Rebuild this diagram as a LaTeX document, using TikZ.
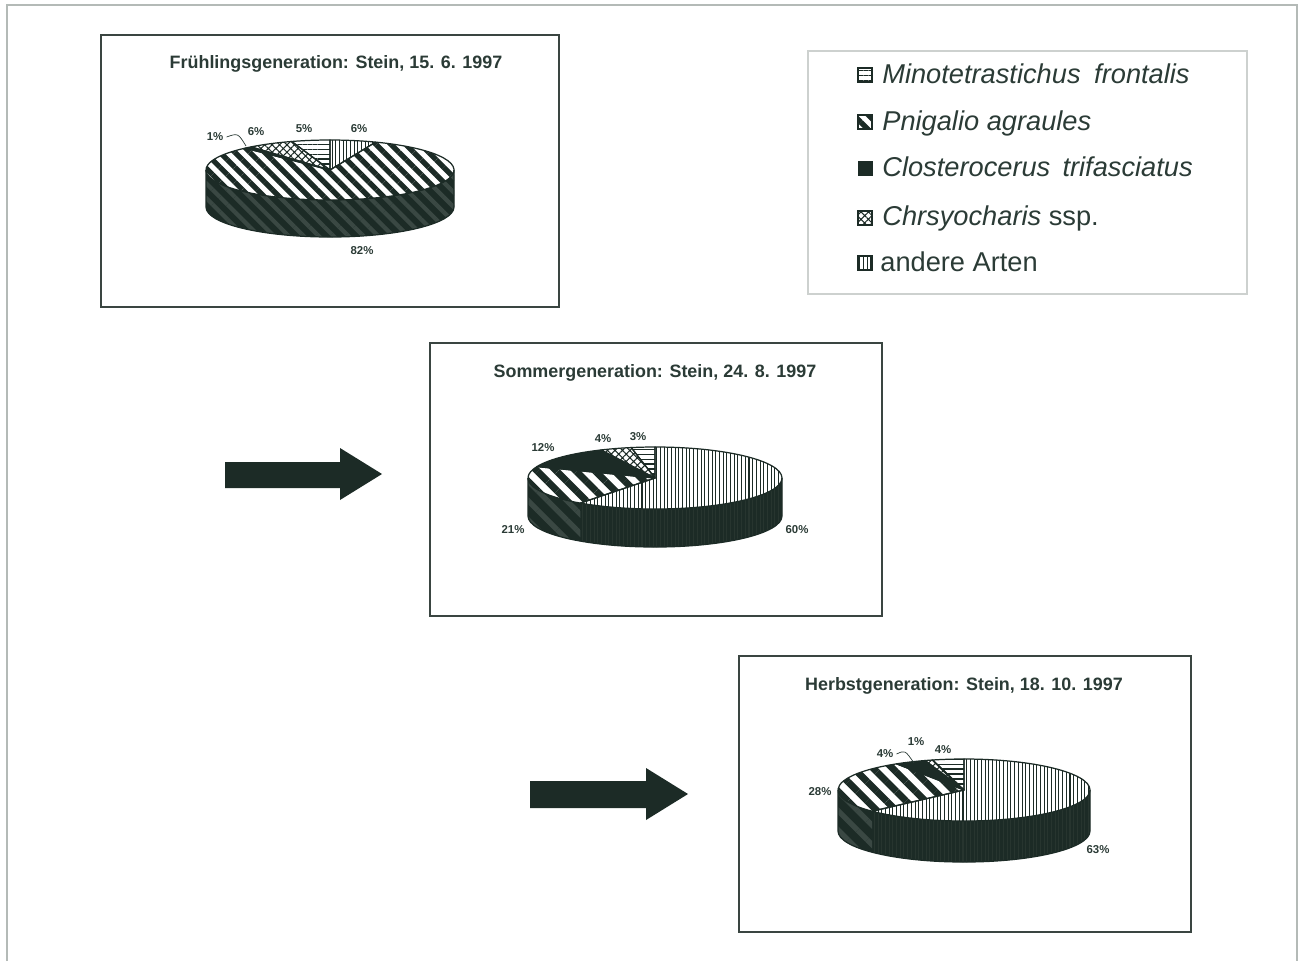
\documentclass[tikz,border=0pt]{standalone}
\usepackage{fontspec}
\setmainfont{Liberation Sans}
\usetikzlibrary{patterns.meta}

\definecolor{ink}{HTML}{1C2B26}
\definecolor{textgreen}{HTML}{2B3B36}
\definecolor{framegray}{HTML}{B4BAB7}
\definecolor{legendgray}{HTML}{CDD1CF}
\definecolor{boxgray}{HTML}{3A4541}
\definecolor{sidestripe}{HTML}{3A4843}
\definecolor{sideline}{HTML}{27352F}

\newcommand{\slicepath}[2]{(0,0) -- ({\prx*cos(#1)},{\pry*sin(#1)}) arc[start angle=#1, end angle=#2, x radius=\prx, y radius=\pry] -- cycle}
\newcommand{\sidepath}[2]{({\prx*cos(#1)},{\pry*sin(#1)}) arc[start angle=#1, end angle=#2, x radius=\prx, y radius=\pry] -- ++(0,\pdp) arc[start angle=#2, end angle=#1, x radius=\prx, y radius=\pry] -- cycle}
\newcommand{\sideoutline}{(\prx,0) -- ++(0,\pdp) arc[start angle=0, end angle=180, x radius=\prx, y radius=\pry] -- ++(0,-\pdp)}

\tikzset{
  chartbox/.style={draw=boxgray, line width=1.1pt},
  charttitle/.style={font=\fontsize{10.2}{12}\selectfont\bfseries, text=textgreen, anchor=base},
  pct/.style={font=\fontsize{6.5}{7}\selectfont\bfseries, text=textgreen, inner sep=0pt},
  legendtext/.style={font=\fontsize{15.5}{18}\selectfont, text=textgreen, anchor=base west, inner sep=0pt},
  legendicon/.style={draw=ink, line width=1.1pt},
  slice/.style={draw=ink, line width=0.7pt, line join=round},
  leader/.style={draw=textgreen, line width=0.4pt},
  diagA/.style={pattern={Lines[angle=-45,distance=6pt,line width=3pt]}, pattern color=ink},
  diagB/.style={pattern={Lines[angle=-45,distance=7.8pt,line width=3.9pt]}, pattern color=ink},
  sidediagA/.style={pattern={Lines[angle=-45,distance=6pt,line width=2.4pt]}, pattern color=sidestripe},
  sidediagB/.style={pattern={Lines[angle=-45,distance=7.8pt,line width=3pt]}, pattern color=sidestripe},
  vert/.style={pattern={Lines[angle=90,distance=2.1pt,line width=0.6pt]}, pattern color=ink},
  sidevert/.style={pattern={Lines[angle=90,distance=2.1pt,line width=0.6pt]}, pattern color=sideline},
  horiz/.style={pattern={Lines[angle=0,distance=2.8pt,line width=0.8pt]}, pattern color=ink},
  cross/.style={pattern={Hatch[angle=45,distance=3pt,line width=0.6pt]}, pattern color=ink},
}

\begin{document}
\begin{tikzpicture}[x=0.02cm, y=-0.02cm]
  \useasboundingbox (0,0) rectangle (1304,961);
  \fill[white] (0,0) rectangle (1304,961);
  \draw[framegray, line width=1.1pt] (7,961) -- (7,5) -- (1297,5) -- (1297,961);

  % chart frames
  \draw[chartbox] (101,35) rectangle (559,307);
  \draw[chartbox] (430,343) rectangle (882,616);
  \draw[chartbox] (739,656) rectangle (1191,932);

  \node[charttitle] (title1) at (336,68) {Frühlingsgeneration: Stein, 15. 6. 1997};
  \node[charttitle] (title2) at (655,377) {Sommergeneration: Stein, 24. 8. 1997};
  \node[charttitle] (title3) at (964,690) {Herbstgeneration: Stein, 18. 10. 1997};

  % pie 1
  \begin{scope}[shift={(330,170)}]
    \def\prx{124}\def\pry{30}\def\pdp{37}
    \fill[ink] \sidepath{0}{180};
    \path[sidediagA] \sidepath{0}{180};
    \path[diagA] \slicepath{-68.4}{226.8};
    \path[vert] \slicepath{-90}{-68.4};
    \fill[ink] \slicepath{226.8}{230.4};
    \path[cross] \slicepath{230.4}{252};
    \path[horiz] \slicepath{252}{270};
    \foreach \a/\b in {-90/-68.4, -68.4/226.8, 226.8/230.4, 230.4/252, 252/270}
      \draw[slice] \slicepath{\a}{\b};
    \draw[slice] \sideoutline;
  \end{scope}
  \node[pct] (p1a) at (215,137) {1\%};
  \node[pct] (p1b) at (256,132) {6\%};
  \node[pct] (p1c) at (304,129) {5\%};
  \node[pct] (p1d) at (359,129) {6\%};
  \node[pct] (p1e) at (362,251) {82\%};
  \coordinate (tip1) at (246,146);
  \draw[leader] (p1a.east) ++(3,0) .. controls (238,133) .. (tip1);

  % pie 2
  \begin{scope}[shift={(655,478)}]
    \def\prx{127}\def\pry{31}\def\pdp{38}
    \fill[ink] \sidepath{0}{180};
    \path[sidevert] \sidepath{0}{126};
    \path[sidediagB] \sidepath{126}{180};
    \path[vert] \slicepath{-90}{126};
    \path[diagB] \slicepath{126}{201.6};
    \fill[ink] \slicepath{201.6}{244.8};
    \path[cross] \slicepath{244.8}{259.2};
    \path[horiz] \slicepath{259.2}{270};
    \foreach \a/\b in {-90/126, 126/201.6, 201.6/244.8, 244.8/259.2, 259.2/270}
      \draw[slice] \slicepath{\a}{\b};
    \draw[slice] \sideoutline;
  \end{scope}
  \node[pct] (p2a) at (543,448) {12\%};
  \node[pct] (p2b) at (603,439) {4\%};
  \node[pct] (p2c) at (638,437) {3\%};
  \node[pct] (p2d) at (513,530) {21\%};
  \node[pct] (p2e) at (797,530) {60\%};

  % pie 3
  \begin{scope}[shift={(964,790)}]
    \def\prx{126}\def\pry{31}\def\pdp{41}
    \fill[ink] \sidepath{0}{180};
    \path[sidevert] \sidepath{0}{136.8};
    \path[sidediagB] \sidepath{136.8}{180};
    \path[vert] \slicepath{-90}{136.8};
    \path[diagB] \slicepath{136.8}{237.6};
    \fill[ink] \slicepath{237.6}{252};
    \path[cross] \slicepath{252}{255.6};
    \path[horiz] \slicepath{255.6}{270};
    \foreach \a/\b in {-90/136.8, 136.8/237.6, 237.6/252, 252/255.6, 255.6/270}
      \draw[slice] \slicepath{\a}{\b};
    \draw[slice] \sideoutline;
  \end{scope}
  \node[pct] (p3a) at (820,792) {28\%};
  \node[pct] (p3b) at (885,754) {4\%};
  \node[pct] (p3c) at (916,742) {1\%};
  \node[pct] (p3d) at (943,750) {4\%};
  \node[pct] (p3e) at (1098,850) {63\%};
  \coordinate (tip3) at (914,763);
  \draw[leader] (p3b.east) ++(3,0) .. controls (905,750) .. (tip3);

  % arrows
  \fill[ink] (225,462) -- (340,462) -- (340,448) -- (382,474) -- (340,500) -- (340,488) -- (225,488) -- cycle;
  \fill[ink] (530,781) -- (646,781) -- (646,768) -- (688,794) -- (646,820) -- (646,808) -- (530,808) -- cycle;

  % legend
  \draw[legendgray, line width=0.8pt] (808,51) rectangle (1247,294);
  \draw[legendicon, horiz] (858,68) rectangle (872,82);
  \draw[legendicon, diagA] (858,115) rectangle (872,129);
  \fill[ink] (858,161) rectangle (873,176);
  \draw[legendicon, cross] (858,211) rectangle (872,225);
  \draw[legendicon, vert] (858,256) rectangle (872,270);
  \node[legendtext] (leg1) at (882,83) {\itshape Minotetrastichus\hspace{0.5em}frontalis};
  \node[legendtext] (leg2) at (882,130) {\itshape Pnigalio agraules};
  \node[legendtext] (leg3) at (882,176) {\itshape Closterocerus\hspace{0.45em}trifasciatus};
  \node[legendtext] (leg4) at (882,225) {\textit{Chrsyocharis} ssp.};
  \node[legendtext] (leg5) at (880,271) {andere Arten};
\end{tikzpicture}
\end{document}
